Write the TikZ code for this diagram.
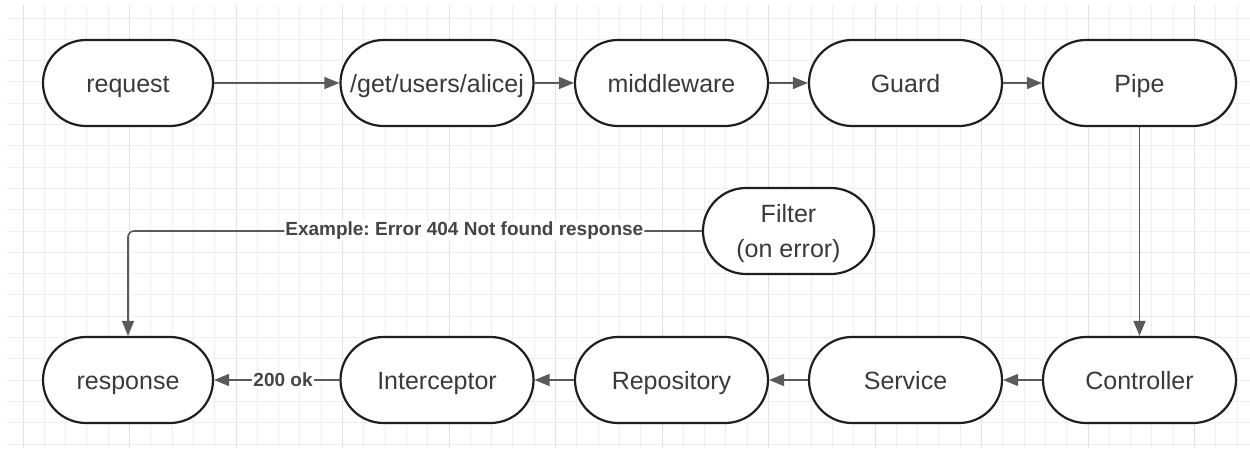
\documentclass[tikz,border=0pt]{standalone}
\usepackage{fontspec}
\setmainfont{Liberation Sans}
\usetikzlibrary{arrows.meta}
\frenchspacing

\definecolor{gridminor}{HTML}{EFEFEF}
\definecolor{gridmajor}{HTML}{E2E2E2}
\definecolor{nodeborder}{HTML}{1F1F1F}
\definecolor{nodetext}{HTML}{3A3A3A}
\definecolor{linkline}{HTML}{5A5A5A}
\definecolor{labeltext}{HTML}{454545}

\tikzset{
  stage/.style={draw=nodeborder, line width=2.2pt, fill=white,
    rounded corners=43pt, minimum height=86pt, minimum width=193pt,
    inner sep=0pt, text=nodetext, font=\fontsize{25}{35}\selectfont,
    text height=22pt, text depth=4pt, align=center},
  endstage/.style={stage, minimum width=170pt},
  flow/.style={draw=linkline, line width=1.6pt,
    -{Triangle[length=15pt,width=12pt]}},
  flowlabel/.style={fill=white, inner sep=1pt, text=labeltext,
    font=\fontsize{19}{22}\selectfont\bfseries}
}

\begin{document}
\begin{tikzpicture}[x=1pt,y=-1pt]
  \useasboundingbox (0,0) rectangle (1250,450);
  \fill[white] (0,0) rectangle (1250,450);

  % background grid
  \foreach \k in {0,...,57}{
    \pgfmathtruncatemacro{\m}{mod(\k,5)}
    \ifnum\m=0
      \draw[gridmajor, line width=0.9pt] ({23+21.3*\k},5) -- ({23+21.3*\k},448);
    \else
      \draw[gridminor, line width=0.9pt] ({23+21.3*\k},5) -- ({23+21.3*\k},448);
    \fi
  }
  \foreach \k in {0,...,20}{
    \draw[gridminor, line width=0.9pt] (7,{18+21.3*\k}) -- (1250,{18+21.3*\k});
  }

  % request path
  \node[endstage] (request)    at (128,83)     {request};
  \node[stage]    (route)      at (437,83)     {/get/users/alicej};
  \node[stage]    (middleware) at (671.5,83)   {middleware};
  \node[stage]    (guard)      at (905.5,83)   {Guard};
  \node[stage]    (pipe)       at (1139.5,83)  {Pipe};

  % error handling
  \node[stage, minimum width=171pt, text height=60pt, text depth=8pt] (filter)
    at (788.5,231) {Filter\\(on error)};

  % response path
  \node[endstage] (response)    at (128,380)    {response};
  \node[stage]    (interceptor) at (437,380)    {Interceptor};
  \node[stage]    (repository)  at (671.5,380)  {Repository};
  \node[stage]    (service)     at (905.5,380)  {Service};
  \node[stage]    (controller)  at (1139.5,380) {Controller};

  \draw[flow] (request) -- (route);
  \draw[flow] (route) -- (middleware);
  \draw[flow] (middleware) -- (guard);
  \draw[flow] (guard) -- (pipe);
  \draw[flow] (pipe) -- (controller);
  \draw[flow] (controller) -- (service);
  \draw[flow] (service) -- (repository);
  \draw[flow] (repository) -- (interceptor);
  \draw[flow] (interceptor) -- node[flowlabel, pos=0.45] {200 ok} (response);
  \draw[flow, rounded corners=6pt] (filter.west) -| node[flowlabel, pos=0.207] {Example: Error 404 Not found response} (response.north);
\end{tikzpicture}
\end{document}
